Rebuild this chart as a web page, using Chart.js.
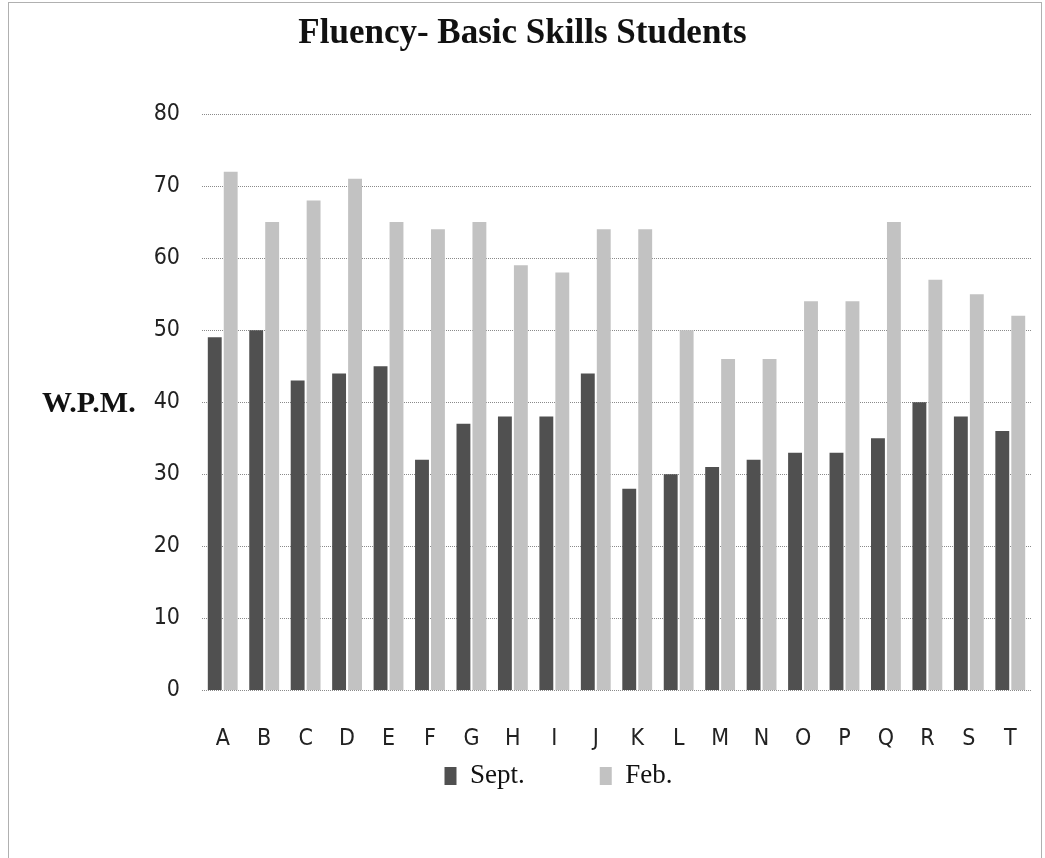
<!DOCTYPE html>
<html lang="en">
  <head>
    <meta charset="UTF-8" />
    <title>Fluency- Basic Skills Students</title>
    <script src="https://cdn.jsdelivr.net/npm/chart.js"></script>
    <style>
      html, body {
        margin: 0;
        padding: 0;
        background: #fff;
        overflow: hidden;
      }
      .frame {
        position: absolute;
        left: 8px;
        top: 2px;
        width: 1034px;
        height: 900px;
        border: 1px solid #b0b0b0;
        box-sizing: border-box;
        pointer-events: none;
      }
      .chart-box {
        position: absolute;
        left: 0;
        top: 0;
        width: 1045px;
        height: 858px;
      }
      .y-title {
        position: absolute;
        left: 42px;
        top: 385px;
        font-family: "Liberation Serif", "Times New Roman", serif;
        font-weight: bold;
        font-size: 30px;
        color: #111;
      }
    </style>
  </head>
  <body>
    <div class="chart-box">
      <canvas id="fluencyChart" width="1045" height="858"></canvas>
    </div>
    <div class="y-title">W.P.M.</div>
    <div class="frame"></div>

    <script>
      const students = ["A", "B", "C", "D", "E", "F", "G", "H", "I", "J",
                        "K", "L", "M", "N", "O", "P", "Q", "R", "S", "T"];
      const septScores = [49, 50, 43, 44, 45, 32, 37, 38, 38, 44,
                          28, 30, 31, 32, 33, 33, 35, 40, 38, 36];
      const febScores = [72, 65, 68, 71, 65, 64, 65, 59, 58, 64,
                         64, 50, 46, 46, 54, 54, 65, 57, 55, 52];
      const yTicks = [0, 10, 20, 30, 40, 50, 60, 70, 80];

      const tickFont = "'Liberation Sans Narrow', 'DejaVu Sans Condensed', 'Open Sans', sans-serif";
      const serifFont = "'Liberation Serif', 'Times New Roman', serif";

      // chart.js puts the legend lower and more to the left than the original
      const legendNudge = {
        id: "legendNudge",
        afterLayout(chart) {
          const lg = chart.legend;
          const pad = lg.options.labels.padding;
          lg.top = chart.chartArea.bottom + 72 - pad;
          lg.bottom = lg.top + pad + 50; // legend clips to its own box
          lg.left += 43;
          lg.right += 43;
          // title is centred on the page, not on the plot
          chart.titleBlock.left += 7;
          chart.titleBlock.right += 7;
        },
      };

      new Chart(document.getElementById("fluencyChart"), {
        type: "bar",
        data: {
          labels: students,
          datasets: [
            {
              label: "Sept.",
              data: septScores,
              backgroundColor: "#505050",
            },
            {
              label: "Feb.",
              data: febScores,
              backgroundColor: "#c2c2c2",
            },
          ],
        },
        options: {
          responsive: false,
          animation: false,
          categoryPercentage: 0.77,
          barPercentage: 0.87,
          layout: {
            padding: { left: 0, right: 14, top: 0, bottom: 39 },
          },
          plugins: {
            title: {
              display: true,
              text: "Fluency- Basic Skills Students",
              color: "#111",
              font: { family: serifFont, size: 35, weight: "bold" },
              padding: { top: 13, bottom: 59 },
            },
            legend: {
              position: "bottom",
              maxHeight: 40,
              labels: {
                color: "#111",
                font: { family: serifFont, size: 27 },
                boxWidth: 12,
                boxHeight: 18,
                padding: 75,
              },
            },
            tooltip: { enabled: false },
          },
          scales: {
            x: {
              grid: { display: false, tickLength: 9 },
              border: { display: false },
              ticks: {
                color: "#222",
                padding: 26,
                font: { family: tickFont, size: 23 },
              },
            },
            y: {
              min: 0,
              max: 80,
              afterBuildTicks(scale) {
                scale.ticks = yTicks.map((v) => ({ value: v }));
              },
              afterFit(scale) {
                scale.width = 202;
              },
              grid: {
                color: "#8a8a8a",
                drawTicks: false,
              },
              border: { display: false, dash: [1, 1] },
              ticks: {
                color: "#222",
                padding: 22,
                font: { family: tickFont, size: 23 },
              },
            },
          },
        },
        plugins: [legendNudge],
      });
    </script>
  </body>
</html>
